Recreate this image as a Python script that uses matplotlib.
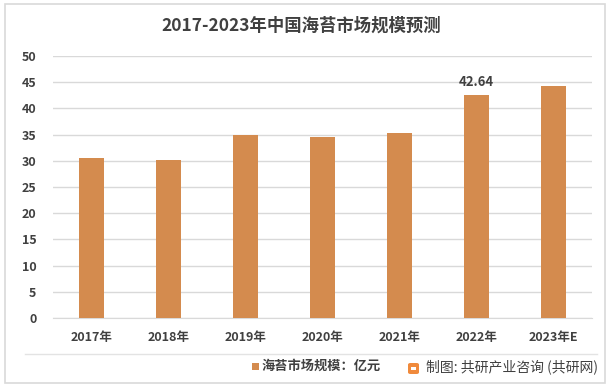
import matplotlib
matplotlib.use("Agg")
import matplotlib.pyplot as plt
from matplotlib.patches import Rectangle, FancyBboxPatch

plt.rcParams['font.family'] = ['Noto Sans CJK SC', 'DejaVu Sans']

categories = ["2017年", "2018年", "2019年", "2020年", "2021年", "2022年", "2023年E"]
values = [30.56, 30.2, 34.9, 34.5, 35.3, 42.64, 44.3]
yticks = [0, 5, 10, 15, 20, 25, 30, 35, 40, 45, 50]
series_name = "海苔市场规模：亿元"
title = "2017-2023年中国海苔市场规模预测"
source = "制图: 共研产业咨询 (共研网)"

W, H = 613, 390
fig = plt.figure(figsize=(W/100, H/100), dpi=100)
fig.patch.set_facecolor("white")

# outer frame
fig.add_artist(Rectangle((5/W, 1 - 383/H), 600/W, 379/H, transform=fig.transFigure,
                         fill=False, edgecolor="#D9D9D9", linewidth=1.2))

ax = fig.add_axes([53/W, 1 - 318/H, (592-53)/W, (318-56)/H])
bar_color = "#D48B4E"
x = range(len(categories))
ax.bar(x, values, width=0.33, color=bar_color, zorder=3, label=series_name)
ax.set_xlim(-0.5, len(categories) - 0.5)
ax.set_ylim(0, 50)
ax.set_yticks(yticks)
ax.set_xticks(list(x))
ax.set_xticklabels(categories)
ax.grid(axis="y", color="#D9D9D9", linewidth=1, zorder=0)
for s in ["top", "right", "left"]:
    ax.spines[s].set_visible(False)
ax.spines["bottom"].set_color("#D9D9D9")
ax.tick_params(axis="both", length=0, labelsize=9, colors="#404040")
ax.tick_params(axis="x", pad=9)
ax.tick_params(axis="y", pad=12)
for lab in ax.get_xticklabels() + ax.get_yticklabels():
    lab.set_fontweight("bold")

ax.text(5, values[5] + 1.0, f"{values[5]:.2f}", ha="center", va="bottom",
        fontsize=9.5, fontweight="bold", color="#404040")

fig.text(301/W, 1 - 26/H, title, ha="center", va="center", fontsize=12.5,
         fontweight="bold", color="#404040")

# separator line
fig.add_artist(plt.Line2D([25/W, 597/W], [1 - 354/H, 1 - 354/H], transform=fig.transFigure,
                          color="#E3E3E3", linewidth=1))

# legend
fig.add_artist(Rectangle((252/W, 1 - 370/H), 7/W, 7/H, transform=fig.transFigure,
                         facecolor=bar_color, edgecolor="none"))
fig.text(262/W, 1 - 366/H, series_name, ha="left", va="center", fontsize=9.5,
         fontweight="bold", color="#404040")

# source logo and text
fig.add_artist(FancyBboxPatch((408/W, 1 - 374/H), 11/W, 11/H, transform=fig.transFigure,
                              boxstyle="round,pad=0,rounding_size=0.004",
                              facecolor="#F08A3C", edgecolor="none"))
fig.add_artist(Rectangle((411/W, 1 - 370/H), 5/W, 3/H, transform=fig.transFigure,
                         facecolor="white", edgecolor="none"))
fig.text(426/W, 1 - 367/H, source, ha="left", va="center", fontsize=10,
         color="#404040")

fig.savefig("out.png", dpi=100, facecolor="white")
